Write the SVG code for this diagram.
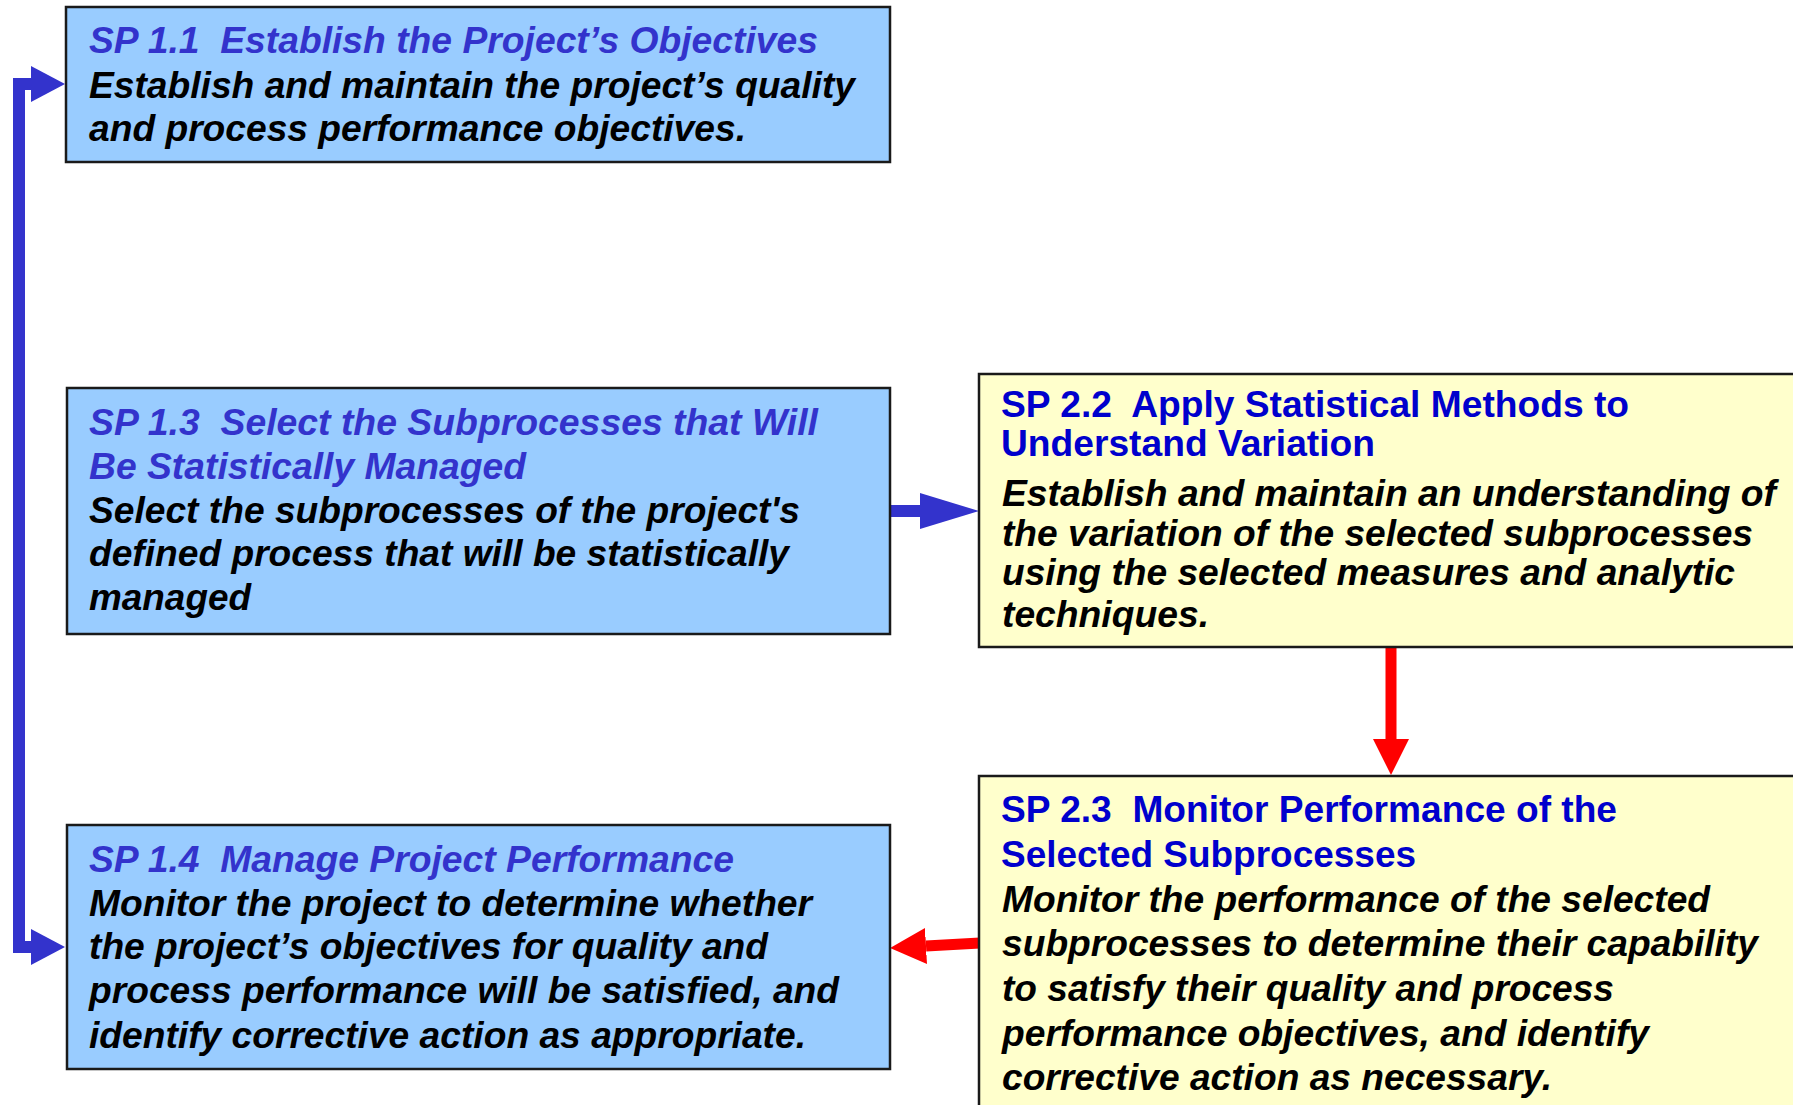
<svg xmlns="http://www.w3.org/2000/svg" width="1793" height="1105" viewBox="0 0 1793 1105">
  <style>
    .box1 { fill: #99CCFF; stroke: #1a1a1a; stroke-width: 2.5; }
    .box2 { fill: #FFFFCC; stroke: #1a1a1a; stroke-width: 2.5; }
    text { font-family: "Liberation Sans", Arial, sans-serif; font-size: 37px; font-weight: bold; white-space: pre; }
    .t1 { fill: #3333CC; font-style: italic; }
    .t2 { fill: #0000CC; }
    .body { fill: #000000; font-style: italic; }
    .blue { fill: none; stroke: #3333CC; }
    .red { fill: none; stroke: #FF0000; }
  </style>
  <defs>
    <marker id="headBlueSmall" markerUnits="userSpaceOnUse" markerWidth="36" markerHeight="36" refX="0" refY="18" orient="auto-start-reverse" viewBox="0 0 36 36">
      <path d="M0,0 L34,18 L0,36 Z" fill="#3333CC"/>
    </marker>
    <marker id="headBlueLong" markerUnits="userSpaceOnUse" markerWidth="60" markerHeight="36" refX="0" refY="18" orient="auto" viewBox="0 0 60 36">
      <path d="M0,0 L59,18 L0,36 Z" fill="#3333CC"/>
    </marker>
    <marker id="headRed" markerUnits="userSpaceOnUse" markerWidth="38" markerHeight="38" refX="0" refY="18" orient="auto" viewBox="0 0 38 38">
      <path d="M0,0 L36,18 L0,36 Z" fill="#FF0000"/>
    </marker>
  </defs>

  <!-- connectors -->
  <g id="connectors">
    <path id="c-sp11-sp14" class="blue" stroke-width="12" d="M31,84 H19 V947 H31" marker-start="url(#headBlueSmall)" marker-end="url(#headBlueSmall)"/>
    <path id="c-sp13-sp22" class="blue" stroke-width="12" d="M889,511 H920" marker-end="url(#headBlueLong)"/>
    <path id="c-sp22-sp23" class="red" stroke-width="11" d="M1391,647 V739" marker-end="url(#headRed)"/>
    <path id="c-sp23-sp14" class="red" stroke-width="11" d="M980,943 L926,946" marker-end="url(#headRed)"/>
  </g>

  <g id="sp11">
    <rect class="box1" x="66" y="7" width="824" height="155"/>
    <text class="t1" x="89" y="53" textLength="729" lengthAdjust="spacingAndGlyphs">SP 1.1  Establish the Project’s Objectives</text>
    <text class="body" x="89" y="98" textLength="766" lengthAdjust="spacingAndGlyphs">Establish and maintain the project’s quality</text>
    <text class="body" x="89" y="141" textLength="657" lengthAdjust="spacingAndGlyphs">and process performance objectives.</text>
  </g>

  <g id="sp13">
    <rect class="box1" x="67" y="388" width="823" height="246"/>
    <text class="t1" x="89" y="435" textLength="729" lengthAdjust="spacingAndGlyphs">SP 1.3  Select the Subprocesses that Will</text>
    <text class="t1" x="89" y="479" textLength="437" lengthAdjust="spacingAndGlyphs">Be Statistically Managed</text>
    <text class="body" x="89" y="523" textLength="711" lengthAdjust="spacingAndGlyphs">Select the subprocesses of the project's</text>
    <text class="body" x="89" y="566" textLength="700" lengthAdjust="spacingAndGlyphs">defined process that will be statistically</text>
    <text class="body" x="89" y="610" textLength="162" lengthAdjust="spacingAndGlyphs">managed</text>
  </g>

  <g id="sp14">
    <rect class="box1" x="67" y="825" width="823" height="244"/>
    <text class="t1" x="89" y="872" textLength="645" lengthAdjust="spacingAndGlyphs">SP 1.4  Manage Project Performance</text>
    <text class="body" x="89" y="916" textLength="723" lengthAdjust="spacingAndGlyphs">Monitor the project to determine whether</text>
    <text class="body" x="89" y="959" textLength="679" lengthAdjust="spacingAndGlyphs">the project’s objectives for quality and</text>
    <text class="body" x="89" y="1003" textLength="750" lengthAdjust="spacingAndGlyphs">process performance will be satisfied, and</text>
    <text class="body" x="89" y="1048" textLength="717" lengthAdjust="spacingAndGlyphs">identify corrective action as appropriate.</text>
  </g>

  <g id="sp22">
    <rect class="box2" x="979" y="374" width="830" height="273"/>
    <text class="t2" x="1001" y="417" textLength="628" lengthAdjust="spacingAndGlyphs">SP 2.2  Apply Statistical Methods to</text>
    <text class="t2" x="1001" y="456" textLength="374" lengthAdjust="spacingAndGlyphs">Understand Variation</text>
    <text class="body" x="1002" y="506" textLength="774" lengthAdjust="spacingAndGlyphs">Establish and maintain an understanding of</text>
    <text class="body" x="1002" y="546" textLength="751" lengthAdjust="spacingAndGlyphs">the variation of the selected subprocesses</text>
    <text class="body" x="1002" y="585" textLength="733" lengthAdjust="spacingAndGlyphs">using the selected measures and analytic</text>
    <text class="body" x="1002" y="627" textLength="207" lengthAdjust="spacingAndGlyphs">techniques.</text>
  </g>

  <g id="sp23">
    <rect class="box2" x="979" y="776" width="830" height="340"/>
    <text class="t2" x="1001" y="822" textLength="616" lengthAdjust="spacingAndGlyphs">SP 2.3  Monitor Performance of the</text>
    <text class="t2" x="1001" y="867" textLength="415" lengthAdjust="spacingAndGlyphs">Selected Subprocesses</text>
    <text class="body" x="1002" y="912" textLength="708" lengthAdjust="spacingAndGlyphs">Monitor the performance of the selected</text>
    <text class="body" x="1002" y="956" textLength="756" lengthAdjust="spacingAndGlyphs">subprocesses to determine their capability</text>
    <text class="body" x="1002" y="1001" textLength="612" lengthAdjust="spacingAndGlyphs">to satisfy their quality and process</text>
    <text class="body" x="1002" y="1046" textLength="647" lengthAdjust="spacingAndGlyphs">performance objectives, and identify</text>
    <text class="body" x="1002" y="1090" textLength="550" lengthAdjust="spacingAndGlyphs">corrective action as necessary.</text>
  </g>
</svg>
